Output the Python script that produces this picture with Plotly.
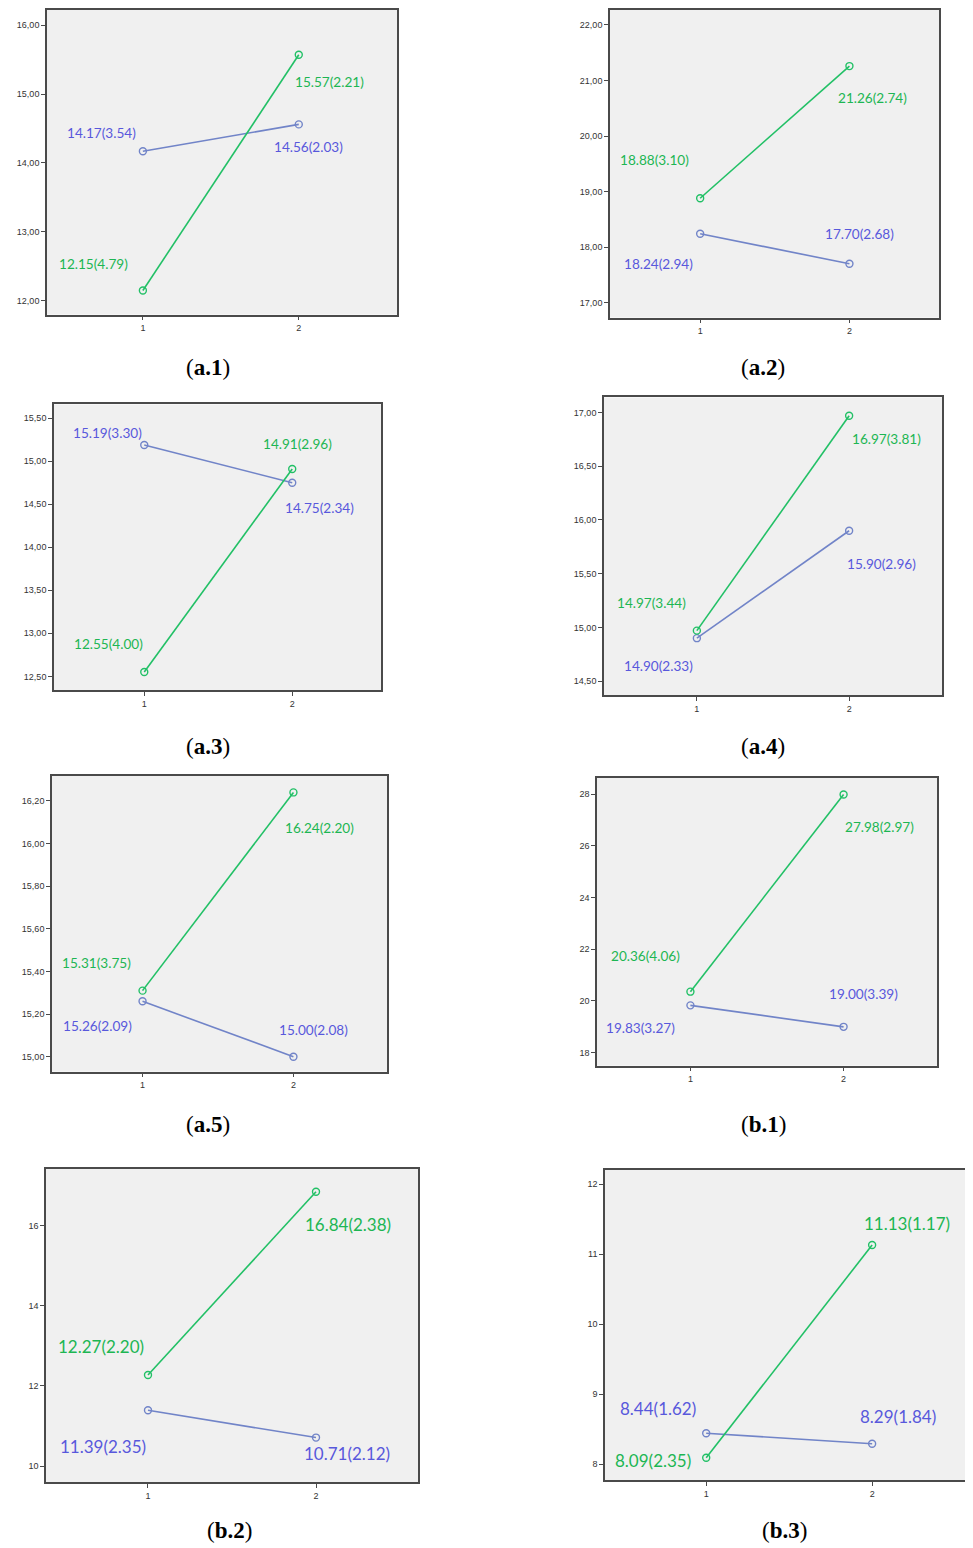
import plotly.graph_objects as go

W, H = 973, 1548
OFF = 8  # page body margin in the browser

# ---------------- data ----------------
panels = ["a.1", "a.2", "a.3", "a.4", "a.5", "b.1", "b.2", "b.3"]
times = [1, 2]
time_labels = ["1", "2"]

blue_t1 = [14.17, 18.24, 15.19, 14.90, 15.26, 19.83, 11.39, 8.44]
blue_t2 = [14.56, 17.70, 14.75, 15.90, 15.00, 19.00, 10.71, 8.29]
blue_sd1 = [3.54, 2.94, 3.30, 2.33, 2.09, 3.27, 2.35, 1.62]
blue_sd2 = [2.03, 2.68, 2.34, 2.96, 2.08, 3.39, 2.12, 1.84]

green_t1 = [12.15, 18.88, 12.55, 14.97, 15.31, 20.36, 12.27, 8.09]
green_t2 = [15.57, 21.26, 14.91, 16.97, 16.24, 27.98, 16.84, 11.13]
green_sd1 = [4.79, 3.10, 4.00, 3.44, 3.75, 4.06, 2.20, 2.35]
green_sd2 = [2.21, 2.74, 2.96, 3.81, 2.20, 2.97, 2.38, 1.17]

y_ticks = [
    [12, 13, 14, 15, 16],
    [17, 18, 19, 20, 21, 22],
    [12.5, 13.0, 13.5, 14.0, 14.5, 15.0, 15.5],
    [14.5, 15.0, 15.5, 16.0, 16.5, 17.0],
    [15.0, 15.2, 15.4, 15.6, 15.8, 16.0, 16.2],
    [18, 20, 22, 24, 26, 28],
    [10, 12, 14, 16],
    [8, 9, 10, 11, 12],
]
y_tick_decimals = [2, 2, 2, 2, 2, 0, 0, 0]

# ---------------- layout / style ----------------
# plot box in page pixels: left, top, right, bottom
boxes = [
    (47, 8, 397, 313),
    (610, 4, 939, 316),
    (54, 403, 381, 689),
    (604, 396, 942, 694),
    (52, 775, 387, 1071),
    (597, 777, 937, 1065),
    (46, 1168, 418, 1482),
    (605, 1169, 975, 1480),
]
y_ranges = [
    (11.80, 16.22),
    (16.73, 22.27),
    (12.34, 15.66),
    (14.37, 17.14),
    (14.93, 16.317),
    (17.50, 28.62),
    (9.60, 17.42),
    (7.77, 12.21),
]
x_ranges = [
    (0.385, 2.63),
    (0.396, 2.60),
    (0.39, 2.60),
    (0.39, 2.61),
    (0.40, 2.62),
    (0.39, 2.61),
    (0.393, 2.607),
    (0.39, 2.62),
]
# label offsets (dx, dy) in px relative to point; dy positive = downward
off_blue1 = [(-41, -18), (-42, 30), (-37, -12), (-38, 28), (-45, 25), (-50, 23), (-45, 36), (-48, -25)]
off_blue2 = [(10, 23), (10, -30), (27, 25), (32, 33), (20, -27), (20, -33), (31, 16), (26, -27)]
off_green1 = [(-49, -26), (-46, -38), (-36, -28), (-45, -28), (-46, -28), (-45, -36), (-47, -29), (-53, 3)]
off_green2 = [(31, 27), (23, 32), (5, -25), (37, 23), (26, 36), (36, 32), (32, 33), (35, -22)]
label_sizes = [13.6, 13.6, 13.6, 13.6, 13.6, 13.6, 17, 17]
captions_pos = [(208, 366), (763, 366), (208, 745), (763, 745),
                (208, 1124), (763, 1124), (229, 1530), (784, 1530)]

GREEN_LINE = "#22c066"
GREEN_TEXT = "#1db653"
BLUE_LINE = "#7184c8"
BLUE_TEXT = "#5858dc"
LABEL_FONT = "Lato, 'Liberation Sans', sans-serif"

fig = go.Figure()
annotations = []


def px_x(p):
    return (p - OFF) / W


def px_y(p):
    return 1 - (p - OFF) / H


for i, name in enumerate(panels):
    idx = "" if i == 0 else str(i + 1)
    xa, ya = "x" + idx, "y" + idx
    l, t, r, b = boxes[i]
    dec = y_tick_decimals[i]
    ticktext = [(f"{v:.{dec}f}").replace(".", ",") for v in y_ticks[i]]

    fig.add_trace(go.Scatter(
        x=times, y=[blue_t1[i], blue_t2[i]], mode="lines+markers",
        line=dict(color=BLUE_LINE, width=1.6),
        marker=dict(symbol="circle-open", size=7, color=BLUE_LINE, line=dict(width=1.4)),
        xaxis=xa, yaxis=ya, showlegend=False, hoverinfo="skip"))
    fig.add_trace(go.Scatter(
        x=times, y=[green_t1[i], green_t2[i]], mode="lines+markers",
        line=dict(color=GREEN_LINE, width=1.6),
        marker=dict(symbol="circle-open", size=7, color=GREEN_LINE, line=dict(width=1.4)),
        xaxis=xa, yaxis=ya, showlegend=False, hoverinfo="skip"))

    axis_common = dict(showline=True, mirror=True, linecolor="#4a4a4a", linewidth=1.6,
                       showgrid=False, zeroline=False, ticks="outside", ticklen=4,
                       tickcolor="#4a4a4a", tickwidth=1,
                       tickfont=dict(family="Liberation Sans, Arial, sans-serif", size=9, color="#333333"))
    x_dom = [max(0, px_x(l)), min(1, px_x(r))]
    y_dom = [max(0, px_y(b)), min(1, px_y(t))]
    fig.update_layout(**{
        "xaxis" + idx: dict(domain=x_dom, range=list(x_ranges[i]), anchor=ya,
                            tickmode="array", tickvals=times, ticktext=time_labels, **axis_common),
        "yaxis" + idx: dict(domain=y_dom, range=list(y_ranges[i]), anchor=xa,
                            tickmode="array", tickvals=y_ticks[i], ticktext=ticktext, **axis_common),
    })

    pts = [
        (1, blue_t1[i], blue_sd1[i], off_blue1[i], BLUE_TEXT),
        (2, blue_t2[i], blue_sd2[i], off_blue2[i], BLUE_TEXT),
        (1, green_t1[i], green_sd1[i], off_green1[i], GREEN_TEXT),
        (2, green_t2[i], green_sd2[i], off_green2[i], GREEN_TEXT),
    ]
    for (xv, m, sd, (dx, dy), col) in pts:
        annotations.append(dict(
            x=xv, y=m, xref=xa, yref=ya, text=f"{m:.2f}({sd:.2f})",
            showarrow=False, xshift=dx, yshift=-dy,
            font=dict(family=LABEL_FONT, size=label_sizes[i], color=col),
            xanchor="center", yanchor="middle"))

    cx, cy = captions_pos[i]
    annotations.append(dict(
        x=px_x(cx), y=px_y(cy), xref="paper", yref="paper",
        text=f"(<b>{name}</b>)", showarrow=False,
        font=dict(family="'Liberation Serif', 'DejaVu Serif', serif", size=23, color="#000000"),
        xanchor="center", yanchor="middle"))

fig.update_layout(
    width=W, height=H,
    margin=dict(l=0, r=0, t=0, b=0),
    paper_bgcolor="white",
    plot_bgcolor="#f0f0f0",
    annotations=annotations,
)

fig.write_html("out.html")
